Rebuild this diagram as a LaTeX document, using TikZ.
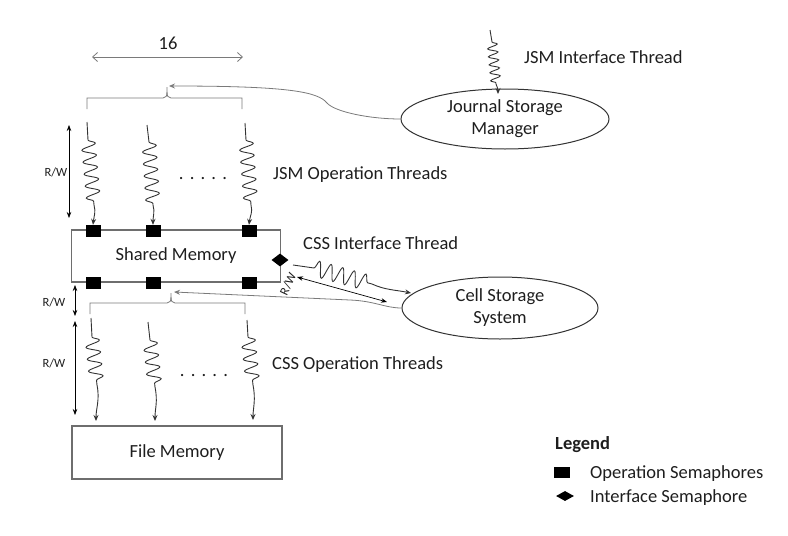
\documentclass[tikz,border=0pt]{standalone}
\usepackage{fontspec}
\setmainfont{Carlito}
\usetikzlibrary{arrows.meta,shapes.geometric,decorations.pathmorphing}
\definecolor{txtc}{HTML}{1E1E1E}
\definecolor{boxc}{HTML}{6E6E6E}
\definecolor{thrc}{HTML}{333333}
\definecolor{linc}{HTML}{7A7A7A}
\begin{document}
\begin{tikzpicture}[x=1pt,y=-1pt,
  txt/.style={font=\fontsize{18.5}{22}\selectfont, text=txtc, inner sep=0},
  smalltxt/.style={font=\fontsize{12.5}{14}\selectfont, text=txtc, inner sep=0},
  membox/.style={draw=boxc, line width=1.1pt, minimum width=209, minimum height=52, inner sep=0, font=\fontsize{18.5}{22}\selectfont, text=txtc},
  sem/.style={fill=black, minimum width=15, minimum height=12, inner sep=0},
  isem/.style={diamond, fill=black, minimum width=17, minimum height=13, inner sep=0},
  proc/.style={ellipse, draw=thrc, line width=1pt, inner sep=0, align=center, font=\fontsize{18.5}{22}\selectfont, text=txtc},
  thread/.style={draw=thrc, line width=0.9pt, -{Stealth[length=6pt,width=5pt]}},
  opwave/.style={decoration={snake, segment length=12pt, amplitude=7pt}},
  jwave/.style={decoration={snake, segment length=8pt, amplitude=5pt}},
  cwave/.style={decoration={snake, segment length=12pt, amplitude=8pt}},
  brace/.style={draw=linc, line width=0.8pt},
  conn/.style={draw=linc, line width=0.8pt, -{Stealth[length=6pt,width=5pt]}},
  rw/.style={draw=black, line width=0.7pt, {Stealth[length=6pt,width=4.5pt]}-{Stealth[length=6pt,width=4.5pt]}},
  span/.style={draw=linc, line width=0.8pt, {Straight Barb[length=5pt,width=9pt]}-{Straight Barb[length=5pt,width=9pt]}}
]
\useasboundingbox (0,0) rectangle (788,536);

% memories
\node[membox] (shm) at (176,256) {Shared Memory};
\node[membox, minimum width=210, minimum height=53] (fm) at (177,452.5) {File Memory};

% semaphores
\node[sem] (s1t) at (93,231) {};
\node[sem] (s2t) at (153,231) {};
\node[sem] (s3t) at (249,231) {};
\node[sem] (s1b) at (93,283) {};
\node[sem] (s2b) at (153,283) {};
\node[sem] (s3b) at (249,283) {};
\node[isem] (dia) at (280,260) {};

% processes
\node[proc, minimum width=208, minimum height=60] (jsm) at (505,119) {Journal Storage\\Manager};
\node[proc, minimum width=196, minimum height=62] (css) at (500,308) {Cell Storage\\System};

% span 16
\coordinate (spL) at (92,57);
\coordinate (spR) at (243,57);
\draw[span] (spL) -- (spR);
\node[txt, anchor=base] (sixteen) at (168,49) {16};

% top brace
\coordinate (topbump) at (169,86);
\draw[brace] (87,109) -- (87,98) -- (163,98) .. controls (166,98) and (167,96) .. (167,92) -- (167,87);
\draw[brace] (242,109) -- (242,98) -- (171,98) .. controls (168,98) and (167,96) .. (167,92);
\draw[conn] (jsm.west) .. controls (370,119) and (335,112) .. (327,103) .. controls (318,92) and (290,86) .. (topbump);

% JSM operation threads
\coordinate (t1) at (87,122);
\coordinate (t2) at (147,125);
\coordinate (t3) at (245,123);
\draw[thread] (t1) -- (88,140) decorate[opwave]{-- (94,205)} .. controls (96,212) and (94,216) .. (s1t.north);
\draw[thread] (t2) -- (149,142) decorate[opwave]{-- (153,205)} .. controls (155,212) and (153,216) .. (s2t.north);
\draw[thread] (t3) -- (246,140) decorate[opwave]{-- (251,205)} .. controls (253,212) and (250,216) .. (s3t.north);
\node[txt] (dots1) at (203,179) {.\,\,.\,\,.\,\,.\,\,.};
\node[txt, anchor=base west] (jsmop) at (273,179) {JSM Operation Threads};

% JSM interface thread
\coordinate (jtop) at (490,30);
\coordinate (jin) at (498,94);
\draw[thread] (jtop) -- (492,42) decorate[jwave]{-- (496,84)} .. controls (498,89) and (498,90) .. (jin);
\node[txt, anchor=base west] (jsmint) at (524,63) {JSM Interface Thread};

% left R/W arrows
\coordinate (rw1a) at (69,125);
\coordinate (rw1b) at (69,218);
\draw[rw] (rw1a) -- (rw1b);
\node[smalltxt] (rwl1) at (56,172) {R/W};
\coordinate (rw2a) at (75,285);
\coordinate (rw2b) at (75,316);
\draw[rw] (rw2a) -- (rw2b);
\node[smalltxt] (rwl2) at (54,302) {R/W};
\coordinate (rw3a) at (75,321);
\coordinate (rw3b) at (75,415);
\draw[rw] (rw3a) -- (rw3b);
\node[smalltxt] (rwl3) at (54,363) {R/W};

% CSS interface
\coordinate (cstart) at (293,265);
\coordinate (cin) at (411,293);
\draw[thread] (cstart) -- (314,268) decorate[cwave]{-- (372,284)} .. controls (385,290) and (396,290) .. (cin);
\node[txt, anchor=base west] (cssint) at (303,249) {CSS Interface Thread};
\coordinate (drwA) at (297,277);
\coordinate (drwB) at (387,302);
\draw[rw] (drwA) -- (drwB);
\node[smalltxt, rotate=65] (rwl4) at (288,284) {R/W};

% bottom brace
\coordinate (botbump) at (174,292);
\draw[brace] (90,314) -- (90,303) -- (167,303) .. controls (170,303) and (171,301) .. (171,297) -- (171,293);
\draw[brace] (245,314) -- (245,303) -- (175,303) .. controls (172,303) and (171,301) .. (171,297);
\draw[conn] (css.west) .. controls (385,308) and (375,301) .. (350,300) -- (botbump);

% CSS operation threads
\coordinate (b1) at (91,318);
\coordinate (b2) at (148,322);
\coordinate (b3) at (247,320);
\coordinate (f1) at (96,421);
\coordinate (f2) at (155,421);
\coordinate (f3) at (253,420);
\draw[thread] (b1) -- (92,337) decorate[opwave]{-- (97,385)} .. controls (100,400) and (96,408) .. (f1);
\draw[thread] (b2) -- (150,340) decorate[opwave]{-- (155,387)} .. controls (158,402) and (155,408) .. (f2);
\draw[thread] (b3) -- (248,337) decorate[opwave]{-- (253,385)} .. controls (256,400) and (253,408) .. (f3);
\node[txt] (dots2) at (204,376) {.\,\,.\,\,.\,\,.\,\,.};
\node[txt, anchor=base west] (cssop) at (272,369) {CSS Operation Threads};

% legend
\node[txt, anchor=base west, font=\fontsize{18.5}{22}\selectfont\bfseries] (leg) at (555,449) {Legend};
\node[sem, minimum width=16, minimum height=11] (legsq) at (562,472) {};
\node[txt, anchor=base west] (legop) at (590,478) {Operation Semaphores};
\node[isem, minimum width=18, minimum height=10] (legdia) at (565,496) {};
\node[txt, anchor=base west] (legint) at (590,502) {Interface Semaphore};
\end{tikzpicture}
\end{document}
